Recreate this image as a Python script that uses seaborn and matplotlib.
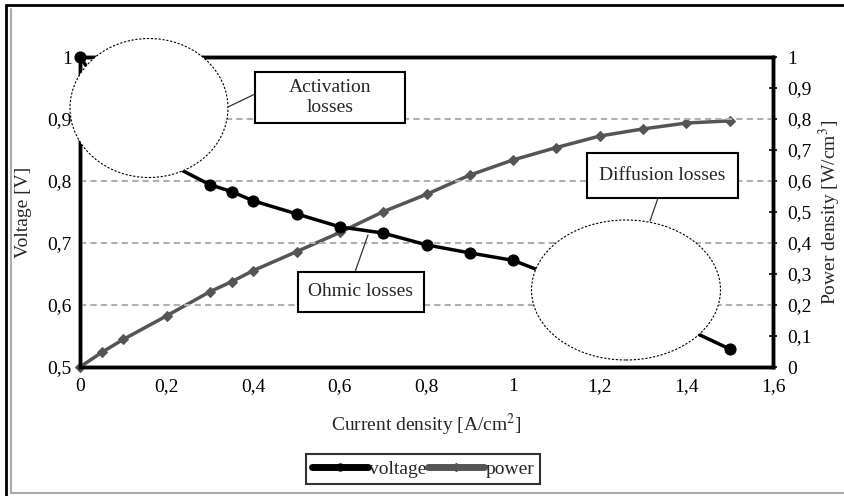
import matplotlib
matplotlib.use("Agg")
import matplotlib.pyplot as plt
import seaborn as sns
import pandas as pd
import numpy as np
from matplotlib.patches import Ellipse, Rectangle
from matplotlib.lines import Line2D
from matplotlib.ticker import FuncFormatter

# ---- data ----
current = [0, 0.05, 0.1, 0.2, 0.3, 0.35, 0.4, 0.5, 0.6, 0.7, 0.8, 0.9, 1.0, 1.1, 1.2, 1.3, 1.4, 1.5]
voltage = [1.0, 0.95, 0.89, 0.83, 0.794, 0.783, 0.768, 0.747, 0.726, 0.716, 0.697, 0.684, 0.672, 0.645, 0.62, 0.59, 0.562, 0.529]
power = [0.0, 0.047, 0.089, 0.165, 0.243, 0.275, 0.311, 0.372, 0.434, 0.501, 0.557, 0.619, 0.668, 0.708, 0.745, 0.768, 0.787, 0.794]
x_ticks = [0, 0.2, 0.4, 0.6, 0.8, 1.0, 1.2, 1.4, 1.6]
v_ticks = [0.5, 0.6, 0.7, 0.8, 0.9, 1.0]
p_ticks = [0, 0.1, 0.2, 0.3, 0.4, 0.5, 0.6, 0.7, 0.8, 0.9, 1.0]

df = pd.DataFrame({"current": current, "voltage": voltage, "power": power})

sns.set_theme(style="white")
plt.rcParams['font.family'] = ['Liberation Serif', 'DejaVu Serif']
plt.rcParams['mathtext.fontset'] = 'stix'

W, H = 845, 496
fig = plt.figure(figsize=(W / 100, H / 100), dpi=100)
fig.patch.set_facecolor('white')

def fx(x):
    return x / W

def fy(y):
    return 1 - y / H

L, R, T, B = 80, 773, 57, 367
ax = fig.add_axes([fx(L), fy(B), fx(R) - fx(L), fy(T) - fy(B)])
ax2 = ax.twinx()

def comma(v, pos):
    s = ('%g' % round(v, 2))
    return s.replace('.', ',')

FS = 14

# grid lines (dashed gray) at voltage 0.6..0.9
for g in [0.6, 0.7, 0.8, 0.9]:
    ax.axhline(g, color='#b0b0b0', lw=1.5, ls=(0, (3, 2)), zorder=0)

sns.lineplot(data=df, x="current", y="voltage", ax=ax, color='black', lw=2.5,
             marker='o', markersize=8, markeredgecolor='black', zorder=3, legend=False,
             clip_on=False)
sns.lineplot(data=df, x="current", y="power", ax=ax2, color='#555555', lw=2.5,
             marker='D', markersize=5, markeredgecolor='#555555', zorder=3, legend=False,
             clip_on=False)

ax.set_xlim(0, 1.6)
ax.set_ylim(0.5, 1.0)
ax2.set_ylim(0, 1.0)
ax.set_xticks(x_ticks)
ax.set_yticks(v_ticks)
ax2.set_yticks(p_ticks)
ax.xaxis.set_major_formatter(FuncFormatter(comma))
ax.yaxis.set_major_formatter(FuncFormatter(comma))
ax2.yaxis.set_major_formatter(FuncFormatter(comma))

for a in (ax, ax2):
    for s in a.spines.values():
        s.set_color('black')
        s.set_linewidth(2.5)
    a.tick_params(labelsize=FS, colors='black', direction='inout', length=6, width=1.2, pad=2)
    a.set_facecolor('none')
ax.tick_params(axis='y', length=0, pad=6)
ax.tick_params(axis='x', pad=5)
ax2.tick_params(axis='y', pad=7)

ax.set_xlabel("Current density [A/cm$^2$]", fontsize=FS, labelpad=12)
ax.set_ylabel("Voltage [V]", fontsize=FS, labelpad=11)
ax2.set_ylabel("Power density [W/cm$^3$]", fontsize=FS, labelpad=4)

ax.set_zorder(2)
ax2.set_zorder(1)
ax.patch.set_visible(False)

# ---- annotations (ellipses + callout boxes), figure-pixel based ----
def ellipse(cx, cy, w, h):
    e = Ellipse((fx(cx), fy(cy)), w / W, h / H, transform=fig.transFigure,
                facecolor='white', edgecolor='black', lw=0.8, ls=(0, (2, 1.5)), zorder=10)
    fig.add_artist(e)

def box(x0, y0, x1, y1, text):
    r = Rectangle((fx(x0), fy(y1)), (x1 - x0) / W, (y1 - y0) / H, transform=fig.transFigure,
                  facecolor='white', edgecolor='black', lw=1.5, zorder=11)
    fig.add_artist(r)
    fig.text(fx((x0 + x1) / 2), fy((y0 + y1) / 2), text, ha='center', va='center',
             fontsize=FS, zorder=12, linespacing=1.3)

def line(x0, y0, x1, y1):
    fig.add_artist(Line2D([fx(x0), fx(x1)], [fy(y0), fy(y1)], transform=fig.transFigure,
                          color='#333333', lw=0.9, zorder=11))

ellipse(149, 108, 158, 139)
ellipse(626, 290, 189, 140)
line(228, 107, 255, 94)
box(255, 72, 405, 123, "Activation\nlosses")
line(355, 272, 368, 235)
box(298, 272, 424, 312, "Ohmic losses")
line(658, 198, 650, 221)
box(587, 153, 738, 198, "Diffusion losses")

# ---- legend ----
handles = [Line2D([], [], color='black', lw=5, marker='o', markersize=5),
           Line2D([], [], color='#555555', lw=5, marker='D', markersize=4)]
leg = fig.legend(handles, ['voltage', 'power'], loc='center', bbox_to_anchor=(fx(423), fy(469)),
                 ncol=2, frameon=True, fontsize=FS, handlelength=2.9, handletextpad=0.05,
                 columnspacing=0.05, borderpad=0.3, fancybox=False)
leg.get_frame().set_edgecolor('black')
leg.get_frame().set_linewidth(1.5)

# ---- outer frame (scan-like border) ----
fig.add_artist(Line2D([fx(6), fx(845)], [fy(5), fy(5)], transform=fig.transFigure, color='black', lw=2))
fig.add_artist(Line2D([fx(6), fx(6)], [fy(5), fy(496)], transform=fig.transFigure, color='black', lw=2))
fig.add_artist(Line2D([fx(11), fx(11)], [fy(9), fy(493)], transform=fig.transFigure, color='#aaaaaa', lw=1.5))
fig.add_artist(Line2D([fx(11), fx(845)], [fy(493), fy(493)], transform=fig.transFigure, color='#aaaaaa', lw=1.5))

fig.savefig("out.png", dpi=100, facecolor='white')
